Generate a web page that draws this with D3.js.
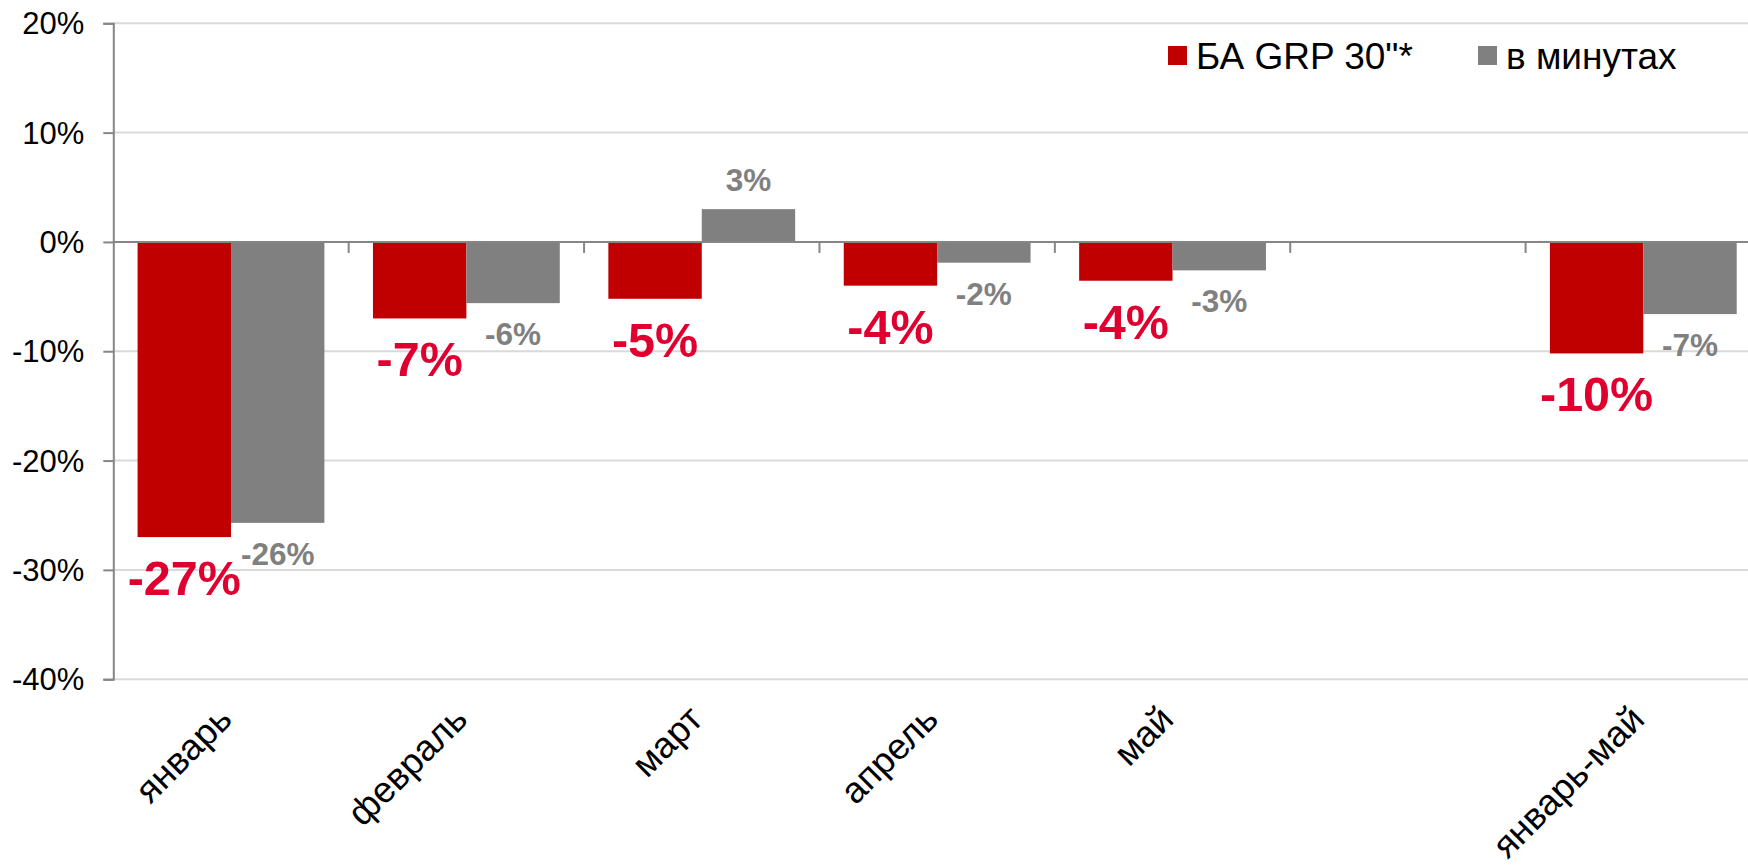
<!DOCTYPE html>
<html>
<head>
<meta charset="utf-8">
<script src="https://cdn.jsdelivr.net/npm/d3@7"></script>
<style>
  body { margin: 0; background: #fff; }
  svg { display: block; font-family: "Liberation Sans", Arial, sans-serif; }
</style>
</head>
<body>
<div id="chart"></div>
<script>
// data
var categories = ["январь", "февраль", "март", "апрель", "май", " ", "январь-май"];
var seriesNames = ["БА GRP 30\"*", "в минутах"];
var grpValues = [-27.0, -7.0, -5.2, -4.0, -3.55, null, -10.2];
var minuteValues = [-25.7, -5.6, 3.0, -1.9, -2.6, null, -6.6];
var yTicks = [20, 10, 0, -10, -20, -30, -40];

var W = 1748, H = 868;
var colors = ["#c00000", "#808080"];
var labelColors = ["#df0030", "#808080"];

var svg = d3.select("#chart")
  .append("svg")
    .attr("width", W)
    .attr("height", H);

var left = 113.3, right = 1761;

var y = d3.scaleLinear()
  .domain([-40, 20])
  .range([679.2, 23.3]);

var x0 = d3.scaleBand()
  .domain(categories)
  .range([left, right])
  .paddingInner(0)
  .paddingOuter(0);

var x1 = d3.scaleBand()
  .domain(seriesNames)
  .range([0, x0.bandwidth()])
  .paddingInner(0)
  .paddingOuter(0.26);

// gridlines
svg.append("g")
  .selectAll("line")
  .data(yTicks.filter(function(d) { return d !== 0; }))
  .enter()
  .append("line")
    .attr("x1", left)
    .attr("x2", W)
    .attr("y1", function(d) { return y(d); })
    .attr("y2", function(d) { return y(d); })
    .attr("stroke", "#d9d9d9")
    .attr("stroke-width", 2);

// Y axis
var yAxis = svg.append("g")
  .attr("transform", "translate(" + left + ",0)")
  .call(d3.axisLeft(y).tickValues(yTicks).tickSize(10).tickPadding(19)
    .tickFormat(function(d) { return d + "%"; }));
yAxis.select(".domain").attr("stroke", "#868686").attr("stroke-width", 2);
yAxis.selectAll(".tick line").attr("stroke", "#868686").attr("stroke-width", 2);
yAxis.selectAll(".tick text")
  .attr("fill", "#000")
  .attr("dy", "0.34em")
  .style("font-size", "31px")
  .style("font-family", "Liberation Sans, Arial, sans-serif");

// table of bars
var rows = [];
categories.forEach(function(c, i) {
  [grpValues, minuteValues].forEach(function(arr, s) {
    if (arr[i] !== null) rows.push({cat: c, series: seriesNames[s], s: s, value: arr[i]});
  });
});

// bars
svg.append("g")
  .selectAll("rect")
  .data(rows)
  .enter()
  .append("rect")
    .attr("x", function(d) { return x0(d.cat) + x1(d.series); })
    .attr("width", x1.bandwidth())
    .attr("y", function(d) { return y(Math.max(0, d.value)); })
    .attr("height", function(d) { return Math.abs(y(d.value) - y(0)); })
    .attr("fill", function(d) { return colors[d.s]; });

// zero line (category axis)
svg.append("line")
  .attr("x1", left).attr("x2", W)
  .attr("y1", y(0)).attr("y2", y(0))
  .attr("stroke", "#868686")
  .attr("stroke-width", 2);

// category ticks
svg.append("g")
  .selectAll("line")
  .data(categories.slice(1))
  .enter()
  .append("line")
    .attr("x1", function(d) { return x0(d); })
    .attr("x2", function(d) { return x0(d); })
    .attr("y1", y(0))
    .attr("y2", y(0) + 11)
    .attr("stroke", "#868686")
    .attr("stroke-width", 2);

// category labels
svg.append("g")
  .selectAll("text")
  .data(categories)
  .enter()
  .append("text")
    .attr("transform", function(d) {
      return "translate(" + (x0(d) + x0.bandwidth() / 2 + 3) + "," + (y(-40) + 42) + ") rotate(-45)";
    })
    .attr("text-anchor", "end")
    .style("font-size", "36.5px")
    .text(function(d) { return d; });

// value labels
function fmt(v) {
  var r = Math.round(Math.abs(v));
  return (v < 0 ? "-" : "") + r + "%";
}
svg.append("g")
  .selectAll("text")
  .data(rows)
  .enter()
  .append("text")
    .attr("x", function(d) { return x0(d.cat) + x1(d.series) + x1.bandwidth() / 2; })
    .attr("y", function(d) {
      if (d.value >= 0) return y(d.value) - 18;
      return y(d.value) + (d.s === 0 ? 58 : 42);
    })
    .attr("text-anchor", "middle")
    .attr("fill", function(d) { return labelColors[d.s]; })
    .style("font-weight", "bold")
    .style("font-size", function(d) { return d.s === 0 ? "48.5px" : "31.5px"; })
    .text(function(d) { return fmt(d.value); });

// legend
var legendX = [1168, 1478];
var legend = svg.append("g")
  .selectAll("g")
  .data(seriesNames)
  .enter()
  .append("g")
    .attr("transform", function(d, i) { return "translate(" + legendX[i] + ",46)"; });
legend.append("rect")
  .attr("width", 19)
  .attr("height", 19)
  .attr("fill", function(d, i) { return colors[i]; });
legend.append("text")
  .attr("x", 28)
  .attr("y", 22.6)
  .style("font-size", "37px")
  .text(function(d) { return d; });
</script>
</body>
</html>
